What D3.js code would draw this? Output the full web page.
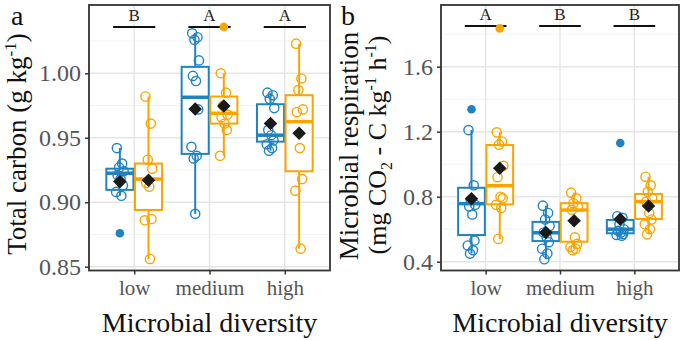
<!DOCTYPE html>
<html>
<head>
<meta charset="utf-8">
<script src="https://cdn.jsdelivr.net/npm/d3@7"></script>
<style>
  body { margin: 0; background: #fff; }
  svg { display: block; }
  text { font-family: "Liberation Serif", "Times New Roman", serif; }
</style>
</head>
<body>
<div id="chart"></div>
<script>
'use strict';

// ─── Data ────────────────────────────────────────────────────────────────────
const diversity = ['low', 'medium', 'high'];

// box stats per group: [whiskerLow, q1, median, q3, whiskerHigh]
const carbonBlueBox   = [[0.905, 0.9096, 0.9225, 0.926, 0.942], [0.891, 0.9375, 0.9814, 1.005, 1.031], [0.940, 0.947, 0.952, 0.976, 0.985]];
const carbonOrangeBox = [[0.856, 0.894, 0.918, 0.930, 0.982],   [0.936, 0.961, 0.969, 0.982, 1.000],    [0.864, 0.924, 0.9625, 0.983, 1.023]];
const carbonBlueMean   = [0.916, 0.9723, 0.961];
const carbonOrangeMean = [0.917, 0.9747, 0.9535];
const carbonBluePts = [
  [0.942, 0.930, 0.927, 0.924, 0.921, 0.918, 0.913, 0.908, 0.905],
  [1.031, 1.028, 1.026, 1.010, 0.998, 0.994, 0.972, 0.943, 0.936, 0.934, 0.891],
  [0.985, 0.983, 0.980, 0.973, 0.956, 0.952, 0.948, 0.945, 0.942, 0.940]
];
const carbonOrangePts = [
  [0.982, 0.961, 0.933, 0.926, 0.915, 0.912, 0.887, 0.886, 0.856],
  [1.000, 0.985, 0.975, 0.968, 0.966, 0.961, 0.956, 0.936],
  [1.023, 0.996, 0.987, 0.972, 0.970, 0.942, 0.918, 0.909, 0.864]
];
const carbonBlueOut   = [[0.876], [], []];
const carbonOrangeOut = [[], [1.036], []];
const carbonLetters   = ['B', 'A', 'A'];
const carbonTicks     = [0.85, 0.90, 0.95, 1.00];

const respBlueBox   = [[0.45, 0.564, 0.757, 0.855, 1.21], [0.415, 0.527, 0.578, 0.645, 0.745], [0.56, 0.575, 0.60, 0.657, 0.68]];
const respOrangeBox = [[0.54, 0.753, 0.868, 1.118, 1.196], [0.48, 0.523, 0.718, 0.76, 0.825],  [0.569, 0.663, 0.77, 0.817, 0.923]];
const respBlueMean   = [0.787, 0.58, 0.661];
const respOrangeMean = [0.975, 0.652, 0.743];
const respBluePts = [
  [1.21, 0.87, 0.78, 0.75, 0.74, 0.69, 0.53, 0.50, 0.47, 0.45],
  [0.745, 0.70, 0.66, 0.62, 0.58, 0.55, 0.52, 0.48, 0.45, 0.415],
  [0.68, 0.67, 0.63, 0.60, 0.59, 0.58, 0.57, 0.565, 0.56]
];
const respOrangePts = [
  [1.196, 1.14, 1.12, 0.99, 0.92, 0.80, 0.79, 0.75, 0.73, 0.54],
  [0.825, 0.79, 0.76, 0.74, 0.72, 0.55, 0.51, 0.49, 0.48, 0.47],
  [0.923, 0.87, 0.83, 0.79, 0.77, 0.70, 0.66, 0.63, 0.60, 0.569]
];
const respBlueOut   = [[1.338], [], [1.13]];
const respOrangeOut = [[1.836], [], []];
const respLetters   = ['A', 'B', 'B'];
const respTicks     = [0.4, 0.8, 1.2, 1.6];

// ─── Style ───────────────────────────────────────────────────────────────────
const BLUE   = '#1f83c2';
const ORANGE = '#fba400';
const JITTER = [-0.04, 0.03, -0.01, 0.05, -0.03, 0.01, 0.04, -0.05, 0.02, -0.02, 0.0];

const svg = d3.select('#chart').append('svg')
  .attr('width', 685)
  .attr('height', 340);

function drawPanel(p) {
  const g = svg.append('g');
  const x = d3.scalePoint().domain(diversity).range([p.left, p.right]).padding(0.6);
  const y = d3.scaleLinear().domain([p.ticks[0], p.ticks[p.ticks.length - 1]]).range(p.yRange);
  const step = x.step();

  // grid
  const lo = y.invert(p.bottom), hi = y.invert(p.top);
  const half = (p.ticks[1] - p.ticks[0]) / 2;
  const minor = d3.range(p.ticks[0] - half, hi, half * 2).filter(v => v > lo && v < hi);
  g.selectAll('.minor').data(minor).join('line')
    .attr('x1', p.left).attr('x2', p.right)
    .attr('y1', d => y(d)).attr('y2', d => y(d))
    .attr('stroke', '#efefef').attr('stroke-width', 0.8);
  g.selectAll('.major').data(p.ticks).join('line')
    .attr('x1', p.left).attr('x2', p.right)
    .attr('y1', d => y(d)).attr('y2', d => y(d))
    .attr('stroke', '#e6e6e6').attr('stroke-width', 1.5);
  g.selectAll('.vgrid').data(diversity).join('line')
    .attr('x1', d => x(d)).attr('x2', d => x(d))
    .attr('y1', p.top).attr('y2', p.bottom)
    .attr('stroke', '#e6e6e6').attr('stroke-width', 1.5);

  // significance letters
  diversity.forEach((d, i) => {
    g.append('line')
      .attr('x1', x(d) - step * 0.28).attr('x2', x(d) + step * 0.28)
      .attr('y1', p.sigY).attr('y2', p.sigY)
      .attr('stroke', '#111').attr('stroke-width', 2);
    g.append('text')
      .attr('x', x(d)).attr('y', p.sigY - 6)
      .attr('text-anchor', 'middle')
      .attr('font-size', 17).attr('fill', '#222')
      .text(p.letters[i]);
  });

  const bw = step * 0.36;
  p.series.forEach((s, si) => {
    const off = (si === 0 ? -1 : 1) * step * 0.19;
    diversity.forEach((d, i) => {
      const cx = x(d) + off;
      const [wl, q1, med, q3, wh] = s.box[i];
      // whiskers
      g.append('line').attr('x1', cx).attr('x2', cx).attr('y1', y(q3)).attr('y2', y(wh))
        .attr('stroke', s.color).attr('stroke-width', 2);
      g.append('line').attr('x1', cx).attr('x2', cx).attr('y1', y(q1)).attr('y2', y(wl))
        .attr('stroke', s.color).attr('stroke-width', 2);
      // box
      g.append('rect')
        .attr('x', cx - bw / 2).attr('width', bw)
        .attr('y', y(q3)).attr('height', y(q1) - y(q3))
        .attr('fill', '#fff').attr('stroke', s.color).attr('stroke-width', 2);
      g.append('line')
        .attr('x1', cx - bw / 2).attr('x2', cx + bw / 2)
        .attr('y1', y(med)).attr('y2', y(med))
        .attr('stroke', s.color).attr('stroke-width', 3.5);
      // outliers
      g.selectAll(null).data(s.out[i]).join('circle')
        .attr('cx', cx).attr('cy', v => y(v)).attr('r', 4.3)
        .attr('fill', s.color);
      // jittered points
      g.selectAll(null).data(s.pts[i]).join('circle')
        .attr('cx', (v, k) => cx + JITTER[k % JITTER.length] * step)
        .attr('cy', v => y(v)).attr('r', 4.6)
        .attr('fill', 'none').attr('stroke', s.color).attr('stroke-width', 1.4);
    });
  });

  // means (diamonds)
  p.series.forEach((s, si) => {
    const off = (si === 0 ? -1 : 1) * step * 0.19;
    g.selectAll(null).data(s.mean).join('rect')
      .attr('x', -4.8).attr('y', -4.8).attr('width', 9.6).attr('height', 9.6)
      .attr('transform', (v, i) => `translate(${x(diversity[i]) + off},${y(v)}) rotate(45)`)
      .attr('fill', '#1a1a1a');
  });

  // panel border
  g.append('rect')
    .attr('x', p.left).attr('y', p.top)
    .attr('width', p.right - p.left).attr('height', p.bottom - p.top)
    .attr('fill', 'none').attr('stroke', '#333').attr('stroke-width', 1.8);

  // axes
  const yAxis = g.append('g').attr('transform', `translate(${p.left},0)`)
    .call(d3.axisLeft(y).tickValues(p.ticks).tickSize(4).tickPadding(4).tickFormat(p.fmt));
  const xAxis = g.append('g').attr('transform', `translate(0,${p.bottom})`)
    .call(d3.axisBottom(x).tickSize(4).tickPadding(6));
  [yAxis, xAxis].forEach(a => {
    a.select('.domain').remove();
    a.selectAll('.tick line').attr('stroke', '#333').attr('stroke-width', 1.5);
    a.selectAll('.tick text').attr('fill', '#555')
      .attr('font-family', '"Liberation Serif", serif');
  });
  yAxis.selectAll('.tick text').attr('font-size', 24);
  xAxis.selectAll('.tick text').attr('font-size', 21);

  g.append('text')
    .attr('x', (p.left + p.right) / 2).attr('y', 332)
    .attr('text-anchor', 'middle').attr('font-size', 28).attr('fill', '#111')
    .text('Microbial diversity');

  g.append('text')
    .attr('x', p.tagX).attr('y', 25)
    .attr('font-size', 28).attr('fill', '#111')
    .text(p.tag);

  return g;
}

const ga = drawPanel({
  left: 89, right: 330, top: 5, bottom: 270.5, yRange: [266.7, 73.3],
  ticks: carbonTicks, fmt: d3.format('.2f'), letters: carbonLetters, sigY: 27,
  tag: 'a', tagX: 11,
  series: [
    { color: BLUE,   box: carbonBlueBox,   mean: carbonBlueMean,   pts: carbonBluePts,   out: carbonBlueOut },
    { color: ORANGE, box: carbonOrangeBox, mean: carbonOrangeMean, pts: carbonOrangePts, out: carbonOrangeOut }
  ]
});

const gb = drawPanel({
  left: 441, right: 679, top: 5, bottom: 270.5, yRange: [261.7, 66.7],
  ticks: respTicks, fmt: d3.format('.1f'), letters: respLetters, sigY: 26,
  tag: 'b', tagX: 341,
  series: [
    { color: BLUE,   box: respBlueBox,   mean: respBlueMean,   pts: respBluePts,   out: respBlueOut },
    { color: ORANGE, box: respOrangeBox, mean: respOrangeMean, pts: respOrangePts, out: respOrangeOut }
  ]
});

// y titles
const ta = ga.append('text')
  .attr('transform', 'translate(26,144) rotate(-90)')
  .attr('text-anchor', 'middle').attr('font-size', 27).attr('fill', '#111');
ta.append('tspan').text('Total carbon (g kg');
ta.append('tspan').attr('font-size', 17).attr('dy', -10).text('-1');
ta.append('tspan').attr('dy', 10).text(')');

const tb1 = gb.append('text')
  .attr('transform', 'translate(358,146) rotate(-90)')
  .attr('text-anchor', 'middle').attr('font-size', 27).attr('fill', '#111')
  .text('Microbial respiration');
const tb2 = gb.append('text')
  .attr('transform', 'translate(386,145) rotate(-90)')
  .attr('text-anchor', 'middle').attr('font-size', 26).attr('fill', '#111');
tb2.append('tspan').text('(mg CO');
tb2.append('tspan').attr('font-size', 16).attr('dy', 6).text('2');
tb2.append('tspan').attr('dy', -6).text(' - C kg');
tb2.append('tspan').attr('font-size', 16).attr('dy', -10).text('-1');
tb2.append('tspan').attr('dy', 10).text(' h');
tb2.append('tspan').attr('font-size', 16).attr('dy', -10).text('-1');
tb2.append('tspan').attr('dy', 10).text(')');
</script>
</body>
</html>
